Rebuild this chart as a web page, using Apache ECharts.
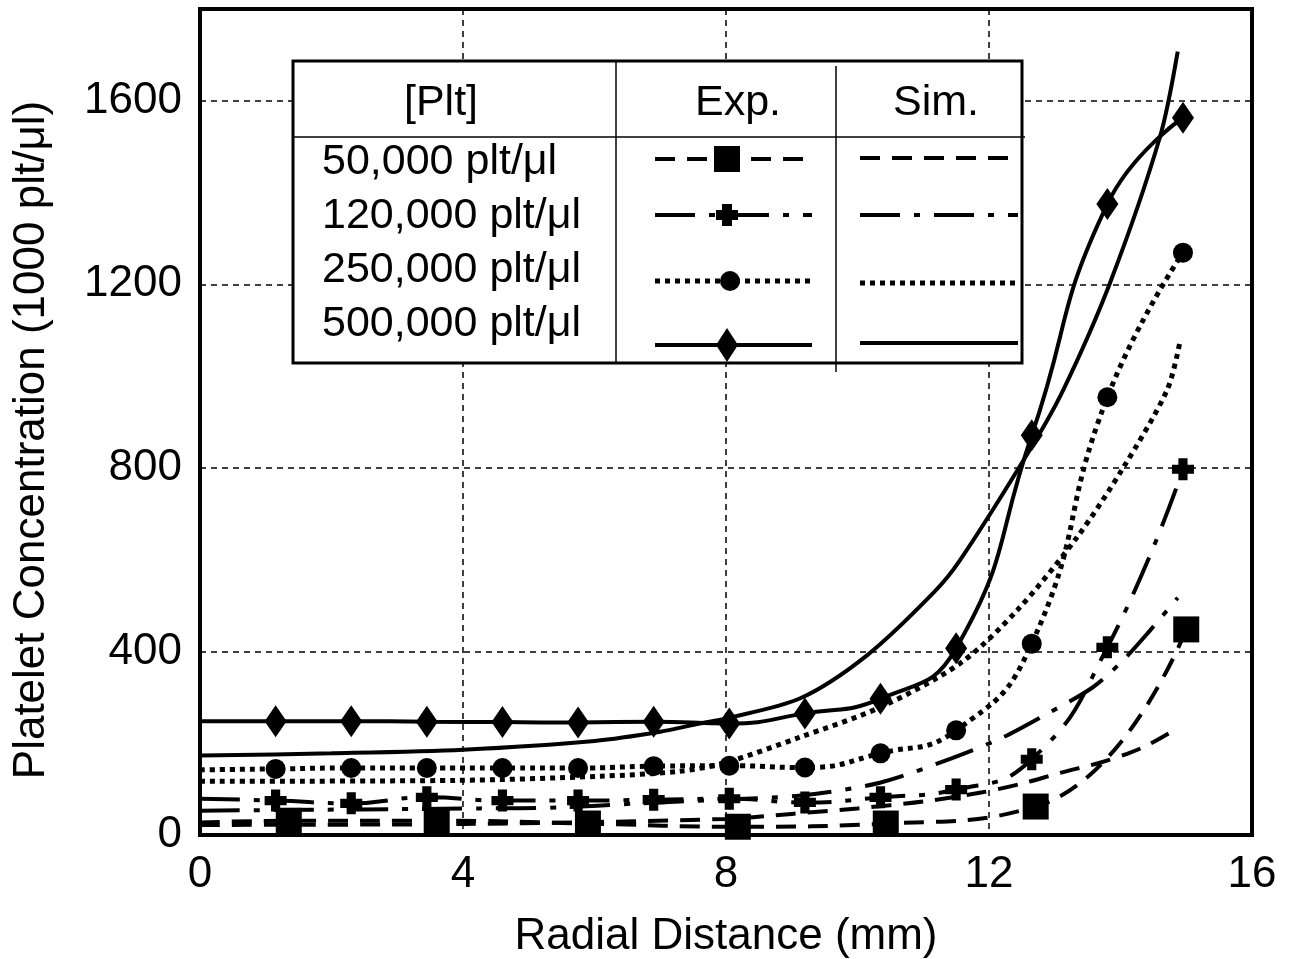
<!DOCTYPE html>
<html>
<head>
<meta charset="utf-8">
<script src="https://cdn.jsdelivr.net/npm/echarts@6/dist/echarts.min.js"></script>
<style>
  html, body { margin: 0; padding: 0; background: #fff; }
  #chart { width: 1302px; height: 959px; }
</style>
</head>
<body>
<div id="chart"></div>
<script>
// axis ticks
const xTicks = [0, 4, 8, 12, 16];
const yTicks = [0, 400, 800, 1200, 1600];

// experimental points (markers), 1000 plt/ul
const expX = [1.15, 2.3, 3.45, 4.6, 5.75, 6.9, 8.05, 9.2, 10.35, 11.5, 12.65, 13.8, 14.95];
const exp50X = [1.35, 3.6, 5.9, 8.18, 10.43, 12.71, 15.0];
const exp50 = [31, 31, 25, 18, 25, 62, 448];
const exp120 = [75, 69, 82, 75, 75, 77, 79, 71, 82, 99, 165, 409, 797];
const exp250 = [144, 146, 146, 146, 146, 150, 151, 147, 178, 228, 417, 954, 1269];
const exp500 = [248, 248, 247, 246, 245, 247, 243, 265, 297, 407, 871, 1375, 1563];
// value of each experimental line at the centre (x = 0, no marker)
const expStart = [27, 79, 142, 248];

// simulation curves
const sim50X = [0, 4, 8, 9, 10, 11, 11.9, 12.5, 13.1, 13.7, 14.1, 14.4, 14.87];
const sim50 = [22, 24, 35, 46, 58, 73, 93, 112, 136, 158, 177, 195, 233];
const sim120X = [0, 4.26, 5.48, 6.69, 7.91, 9.13, 10.34, 11.41, 12.2, 12.78, 13.58, 14.04, 14.45, 14.87];
const sim120 = [53, 58, 60, 69, 77, 86, 114, 166, 212, 256, 322, 381, 446, 517];
const sim250X = [0, 3.9, 6.08, 7.3, 8, 9.12, 10.34, 11.56, 12.43, 13.34, 14.04, 14.71, 14.9];
const sim250 = [117, 119, 128, 139, 158, 213, 278, 374, 490, 649, 800, 970, 1072];
const sim500X = [0, 2, 4, 6, 7, 7.6, 8, 9.13, 10.14, 11.15, 11.56, 12.62, 13.13, 13.84, 14.6, 14.87];
const sim500 = [173, 178, 186, 205, 225, 243, 254, 298, 391, 527, 599, 839, 970, 1203, 1521, 1707];

const labels = ["50,000 plt/\u03bcl", "120,000 plt/\u03bcl", "250,000 plt/\u03bcl", "500,000 plt/\u03bcl"];

const FONT = "'Liberation Sans', Arial, sans-serif";
const PLUS = "path://M7,0H17V7H24V17H17V24H7V17H0V7H7Z";

const dash50 = [20, 12];
const dash120 = [40, 14, 6, 14];
const dot250 = [5, 5];

const pairs = (xs, ys) => xs.map((x, i) => [x, ys[i]]);
const expData = (start, xs, ys) =>
  [{ value: [0, start], symbol: "none" }].concat(pairs(xs, ys));

const lineSeries = (name, data, dash, width, symbol, size, smooth) => ({
  name: name,
  type: "line",
  data: data,
  smooth: smooth,
  symbol: symbol,
  symbolSize: size,
  showSymbol: symbol !== "none",
  clip: true,
  itemStyle: { color: "#000" },
  lineStyle: { color: "#000", width: width, type: dash, cap: "butt" },
  emphasis: { disabled: true },
  z: 3,
});

const series = [
  lineSeries("Sim 50,000", pairs(sim50X, sim50), dash50, 4, "none", 0, 0.3),
  lineSeries("Sim 120,000", pairs(sim120X, sim120), dash120, 4, "none", 0, 0.3),
  lineSeries("Sim 250,000", pairs(sim250X, sim250), dot250, 5, "none", 0, 0.3),
  lineSeries("Sim 500,000", pairs(sim500X, sim500), "solid", 4, "none", 0, 0.3),
  lineSeries("Exp 500,000", expData(expStart[3], expX, exp500), "solid", 4, "diamond", [22, 32], 0.5),
  lineSeries("Exp 250,000", expData(expStart[2], expX, exp250), dot250, 5, "circle", 20, 0.5),
  lineSeries("Exp 120,000", expData(expStart[1], expX, exp120), dash120, 4, PLUS, 22, 0.5),
  lineSeries("Exp 50,000", expData(expStart[0], exp50X, exp50), dash50, 4, "rect", 26, 0.5),
];

// legend table drawn as graphics
const rowY = [162, 216, 270, 324];
const expSampleY = [159, 215, 281, 345];
const simSampleY = [158, 215, 283, 343];
const dashes = [dash50, dash120, dot250, null];

const ln = (x1, y1, x2, y2, w, dash) => ({
  type: "line",
  shape: { x1, y1, x2, y2 },
  style: { stroke: "#000", lineWidth: w, lineDash: dash, lineCap: "butt" },
  z: 20,
});
const txt = (x, y, text, align) => ({
  type: "text",
  x: x,
  y: y,
  style: { text: text, font: "43px " + FONT, fill: "#000", align: align, verticalAlign: "middle" },
  z: 21,
});

const graphics = [
  {
    type: "rect",
    shape: { x: 293, y: 61, width: 729, height: 302 },
    style: { fill: "#fff", stroke: "#000", lineWidth: 3 },
    z: 19,
  },
  ln(293, 137, 1025, 137, 1.5),
  ln(616, 61, 616, 363, 1.5),
  ln(836, 66, 836, 372, 1.5),
  txt(441, 103, "[Plt]", "center"),
  txt(738, 103, "Exp.", "center"),
  txt(936, 103, "Sim.", "center"),
];
labels.forEach((t, i) => {
  graphics.push(txt(322, rowY[i], t, "left"));
  graphics.push(ln(655, expSampleY[i], 812, expSampleY[i], i === 2 ? 5 : 4, dashes[i]));
  graphics.push(ln(860, simSampleY[i], 1018, simSampleY[i], i === 2 ? 5 : 4, dashes[i]));
});
const mx = 727;
graphics.push({ type: "rect", shape: { x: mx - 13, y: expSampleY[0] - 13, width: 26, height: 26 }, style: { fill: "#000" }, z: 22 });
graphics.push({
  type: "polygon",
  shape: { points: [[mx - 5, 204], [mx + 5, 204], [mx + 5, 210], [mx + 11, 210], [mx + 11, 220], [mx + 5, 220], [mx + 5, 226], [mx - 5, 226], [mx - 5, 220], [mx - 11, 220], [mx - 11, 210], [mx - 5, 210]] },
  style: { fill: "#000" },
  z: 22,
});
graphics.push({ type: "circle", shape: { cx: mx + 3, cy: expSampleY[2], r: 10 }, style: { fill: "#000" }, z: 22 });
graphics.push({
  type: "polygon",
  shape: { points: [[mx, expSampleY[3] - 17], [mx + 11, expSampleY[3]], [mx, expSampleY[3] + 17], [mx - 11, expSampleY[3]]] },
  style: { fill: "#000" },
  z: 22,
});

const chart = echarts.init(document.getElementById("chart"), null, { renderer: "canvas" });
const gridLine = { color: "#000", width: 1.5, type: [6, 5] };

chart.setOption({
  animation: false,
  backgroundColor: "#fff",
  textStyle: { fontFamily: FONT },
  grid: {
    left: 200,
    top: 9,
    width: 1052,
    height: 826,
    show: true,
    borderColor: "#000",
    borderWidth: 4,
    backgroundColor: "transparent",
    outerBoundsMode: "none",
    containLabel: false,
  },
  xAxis: {
    type: "value",
    min: xTicks[0],
    max: xTicks[xTicks.length - 1],
    interval: xTicks[1] - xTicks[0],
    name: "Radial Distance (mm)",
    nameLocation: "middle",
    nameGap: 80,
    nameTextStyle: { fontSize: 44, color: "#000", fontFamily: FONT },
    axisLine: { show: false },
    axisTick: { show: false },
    axisLabel: { fontSize: 44, color: "#000", margin: 18, fontFamily: FONT },
    splitLine: { show: true, lineStyle: gridLine },
  },
  yAxis: {
    type: "value",
    min: yTicks[0],
    max: 1800,
    interval: yTicks[1] - yTicks[0],
    name: "Platelet Concentration (1000 plt/\u03bcl)",
    nameLocation: "middle",
    nameGap: 146,
    nameRotate: 90,
    nameTextStyle: { fontSize: 44, color: "#000", fontFamily: FONT, padding: [0, 36, 0, 0] },
    axisLine: { show: false },
    axisTick: { show: false },
    axisLabel: {
      fontSize: 44,
      color: "#000",
      margin: 18,
      showMaxLabel: false,
      fontFamily: FONT,
      formatter: (v) => String(v),
    },
    splitLine: { show: true, lineStyle: gridLine },
  },
  series: series,
  graphic: graphics,
});

window.addEventListener("resize", () => chart.resize());
</script>
</body>
</html>
